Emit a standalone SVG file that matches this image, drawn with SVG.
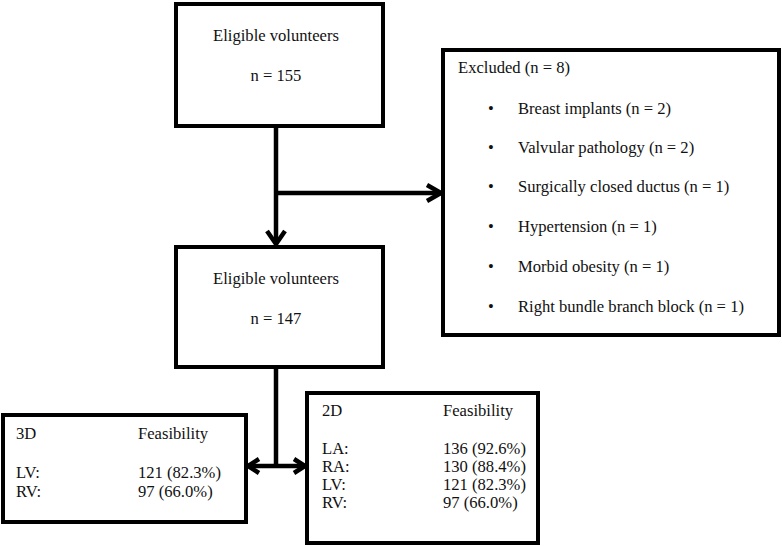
<svg xmlns="http://www.w3.org/2000/svg" width="782" height="546" viewBox="0 0 782 546">
<style>
.box{fill:#fff;stroke:#000;stroke-width:4}
.t{font-family:'Liberation Serif','DejaVu Serif',serif;font-size:16.6px;fill:#111}
.c{text-anchor:middle}
.ln{fill:none;stroke:#000;stroke-width:4.5}
.ah{fill:none;stroke:#000;stroke-width:4.5;stroke-linecap:butt;stroke-linejoin:miter}
</style>
<rect width="782" height="546" fill="#fff"/>
<g id="connectors">
<line class="ln" x1="276" y1="126" x2="276" y2="244"/>
<line class="ln" x1="276" y1="193" x2="441" y2="193"/>
<polyline class="ah" points="267,231 276,244 285,231"/>
<polyline class="ah" points="427,185 441,193 427,201"/>
<line class="ln" x1="276" y1="367" x2="276" y2="466"/>
<line class="ln" x1="248" y1="466" x2="305" y2="466"/>
<polyline class="ah" points="259,459 248,466 259,473"/>
<polyline class="ah" points="294,459 305,466 294,473"/>
</g>
<g id="node-eligible-155">
<rect class="box" x="176" y="4" width="207" height="122"/>
<text class="t c" x="276" y="41">Eligible volunteers</text>
<text class="t c" x="276" y="81">n = 155</text>
</g>
<g id="node-excluded">
<rect class="box" x="443" y="50" width="336" height="285"/>
<text class="t" x="458" y="73">Excluded (n = 8)</text>
<text class="t" x="488" y="114">•</text><text class="t" x="518" y="114">Breast implants (n = 2)</text>
<text class="t" x="488" y="153">•</text><text class="t" x="518" y="153">Valvular pathology (n = 2)</text>
<text class="t" x="488" y="192">•</text><text class="t" x="518" y="192">Surgically closed ductus (n = 1)</text>
<text class="t" x="488" y="232">•</text><text class="t" x="518" y="232">Hypertension (n = 1)</text>
<text class="t" x="488" y="272">•</text><text class="t" x="518" y="272">Morbid obesity (n = 1)</text>
<text class="t" x="488" y="312">•</text><text class="t" x="518" y="312">Right bundle branch block (n = 1)</text>
</g>
<g id="node-eligible-147">
<rect class="box" x="176" y="247" width="207" height="120"/>
<text class="t c" x="276" y="284">Eligible volunteers</text>
<text class="t c" x="276" y="324">n = 147</text>
</g>
<g id="node-3d">
<rect class="box" x="3" y="415" width="243" height="107"/>
<text class="t" x="16" y="439">3D</text><text class="t" x="138" y="439">Feasibility</text>
<text class="t" x="16" y="478">LV:</text><text class="t" x="138" y="478">121 (82.3%)</text>
<text class="t" x="16" y="497">RV:</text><text class="t" x="138" y="497">97 (66.0%)</text>
</g>
<g id="node-2d">
<rect class="box" x="307" y="393" width="231" height="150"/>
<text class="t" x="322" y="416">2D</text><text class="t" x="443" y="416">Feasibility</text>
<text class="t" x="322" y="454">LA:</text><text class="t" x="443" y="454">136 (92.6%)</text>
<text class="t" x="322" y="472">RA:</text><text class="t" x="443" y="472">130 (88.4%)</text>
<text class="t" x="322" y="490">LV:</text><text class="t" x="443" y="490">121 (82.3%)</text>
<text class="t" x="322" y="508">RV:</text><text class="t" x="443" y="508">97 (66.0%)</text>
</g>
</svg>
